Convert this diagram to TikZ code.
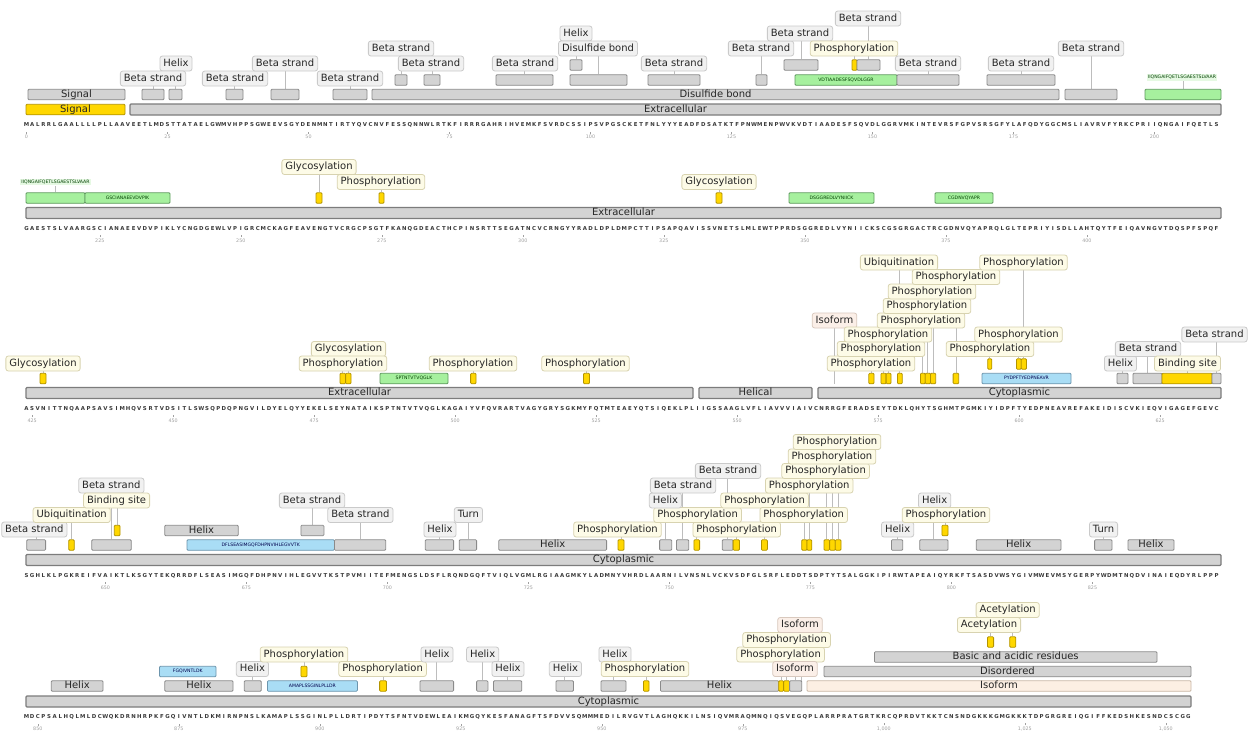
\documentclass[tikz,border=0pt]{standalone}
\usepackage{fontspec}
\setmainfont{DejaVu Sans}
\pgfdeclarelayer{bg}
\pgfsetlayers{bg,main}
\definecolor{boxg}{HTML}{D3D3D3}
\definecolor{boxgd}{HTML}{8A8A8A}
\definecolor{bardk}{HTML}{7C7C7C}
\definecolor{goldf}{HTML}{FFD700}
\definecolor{goldd}{HTML}{B39400}
\definecolor{pepg}{HTML}{A6F09E}
\definecolor{pepgd}{HTML}{5E9A5E}
\definecolor{pepb}{HTML}{A9DDF5}
\definecolor{pepbd}{HTML}{6C95AD}
\definecolor{isof}{HTML}{FCEFE3}
\definecolor{isod}{HTML}{C9B7A6}
\definecolor{labg}{HTML}{F1F1F1}
\definecolor{labgd}{HTML}{CACACA}
\definecolor{labyf}{HTML}{FDFBE7}
\definecolor{labyd}{HTML}{D8D3B0}
\definecolor{labpf}{HTML}{FBEFE8}
\definecolor{labpd}{HTML}{D9C9BE}
\definecolor{leadc}{HTML}{BDBDBD}
\definecolor{seqc}{HTML}{3A3A3A}
\definecolor{numc}{HTML}{A0A0A0}
\definecolor{peplf}{HTML}{E6F9E3}
\tikzset{
 bar0/.style={draw=bardk, fill=boxg, line width=1.1, rounded corners=1, minimum height=11, inner sep=0,
   text height=7, text depth=2, font=\fontsize{10}{10}\selectfont, text=black!85},
 gb/.style={draw=boxgd, fill=boxg, line width=0.8, rounded corners=1, minimum height=10.5, inner sep=0,
   text height=7, text depth=2, font=\fontsize{10}{10}\selectfont, text=black!85},
 yb/.style={gb, draw=goldd, fill=goldf},
 grb/.style={gb, draw=pepgd, fill=pepg, text height=3.5, text depth=1, font=\fontsize{4.6}{5}\selectfont, text=green!25!black},
 blb/.style={gb, draw=pepbd, fill=pepb, text height=3.5, text depth=1, font=\fontsize{4.6}{5}\selectfont, text=blue!30!black},
 isb/.style={gb, draw=isod, fill=isof},
 lab/.style={draw=labgd, fill=labg, rounded corners=2.5, line width=0.8, inner xsep=3.5, inner ysep=0,
   minimum height=15, text height=7.6, text depth=2, font=\fontsize{10}{10}\selectfont, text=black!85},
 laby/.style={lab, draw=labyd, fill=labyf},
 labp/.style={lab, draw=labpd, fill=labpf},
 pepl/.style={fill=peplf, inner sep=1.2, text height=3.5, text depth=1, font=\fontsize{4.6}{5}\selectfont, text=green!25!black},
 lead/.style={draw=leadc, line width=0.8},
 seqch/.style={inner sep=0, font=\bfseries\fontsize{5.4}{5}\selectfont, text=seqc},
 numl/.style={inner sep=0, font=\fontsize{4.8}{5}\selectfont, text=numc},
 tickm/.style={draw=numc, line width=0.4}
}
\newcommand\FeatBox[6]{\node[#2, minimum width={#4-#3}] (#1) at ({(#3+#4)/2},#5) {#6};}
\newcommand\FeatLab[6]{\node[#2] (#1) at (#3,#4) {#5};
 \begin{pgfonlayer}{bg}\draw[lead] (#6.north) -- (#6.north |- #1.south);\end{pgfonlayer}}
\newcommand\FeatLabP[6]{\node[#2] (#1) at (#3,#4) {#5};
 \begin{pgfonlayer}{bg}\draw[lead] (#6) -- (#6 |- #1.south);\end{pgfonlayer}}
\newcommand\NumRow[3]{\foreach \c/\t [count=\k] in {#3} {\node[numl] (n#1x\k) at ({26.5+\c*5.64},#2) {\t};
  \draw[tickm] ([yshift=1.2pt]n#1x\k.north) -- ++(0,-2);}}
\ExplSyntaxOn
\str_new:N \l_rs_seq_str
\NewDocumentCommand\SeqRow{mmm}
 {
  \str_set:Nn \l_rs_seq_str {#3}
  \int_step_inline:nn {\str_count:N \l_rs_seq_str}
   {
    \node[seqch](s#1x##1)at({26.5+(##1-1)*5.64},#2){\str_item:Nn \l_rs_seq_str {##1}};
   }
 }
\ExplSyntaxOff
\begin{document}
\begin{tikzpicture}[x=1pt,y=-1pt]
\useasboundingbox (0,0) rectangle (1252,739);
\begin{pgfonlayer}{bg}\fill[white] (0,0) rectangle (1252,739);\end{pgfonlayer}
% ---------------- sequences
\SeqRow{1}{125}{MALRRLGAALLLLPLLAAVEETLMDSTTATAELGWMVHPPSGWEEVSGYDENMNTIRTYQVCNVFESSQNNWLRTKFIRRRGAHRIHVEMKFSVRDCSSIPSVPGSCKETFNLYYYEADFDSATKTFPNWMENPWVKVDTIAADESFSQVDLGGRVMKINTEVRSFGPVSRSGFYLAFQDYGGCMSLIAVRVFYRKCPRIIQNGAIFQETLS}
\SeqRow{2}{228.5}{GAESTSLVAARGSCIANAEEVDVPIKLYCNGDGEWLVPIGRCMCKAGFEAVENGTVCRGCPSGTFKANQGDEACTHCPINSRTTSEGATNCVCRNGYYRADLDPLDMPCTTIPSAPQAVISSVNETSLMLEWTPPRDSGGREDLVYNIICKSCGSGRGACTRCGDNVQYAPRQLGLTEPRIYISDLLAHTQYTFEIQAVNGVTDQSPFSPQF}
\SeqRow{3}{408.5}{ASVNITTNQAAPSAVSIMHQVSRTVDSITLSWSQPDQPNGVILDYELQYYEKELSEYNATAIKSPTNTVTVQGLKAGAIYVFQVRARTVAGYGRYSGKMYFQTMTEAEYQTSIQEKLPLIIGSSAAGLVFLIAVVVIAIVCNRRGFERADSEYTDKLQHYTSGHMTPGMKIYIDPFTYEDPNEAVREFAKEIDISCVKIEQVIGAGEFGEVC}
\SeqRow{4}{575.5}{SGHLKLPGKREIFVAIKTLKSGYTEKQRRDFLSEASIMGQFDHPNVIHLEGVVTKSTPVMIITEFMENGSLDSFLRQNDGQFTVIQLVGMLRGIAAGMKYLADMNYVHRDLAARNILVNSNLVCKVSDFGLSRFLEDDTSDPTYTSALGGKIPIRWTAPEAIQYRKFTSASDVWSYGIVMWEVMSYGERPYWDMTNQDVINAIEQDYRLPPP}
\SeqRow{5}{717}{MDCPSALHQLMLDCWQKDRNHRPKFGQIVNTLDKMIRNPNSLKAMAPLSSGINLPLLDRTIPDYTSFNTVDEWLEAIKMGQYKESFANAGFTSFDVVSQMMMEDILRVGVTLAGHQKKILNSIQVMRAQMNQIQSVEGQPLARRPRATGRTKRCQPRDVTKKTCNSNDGKKKGMGKKKTDPGRGREIQGIFFKEDSHKESNDCSCGG}
\NumRow{1}{137}{0/0,25/25,50/50,75/75,100/100,125/125,150/150,175/175,200/200}
\NumRow{2}{240.3}{13/225,38/250,63/275,88/300,113/325,138/350,163/375,188/400}
\NumRow{3}{420.3}{1/425,26/450,51/475,76/500,101/525,126/550,151/575,176/600,201/625}
\NumRow{4}{587.3}{14/650,39/675,64/700,89/725,114/750,139/775,164/800,189/825}
\NumRow{5}{728.8}{2/850,27/875,52/900,77/925,102/950,127/975,152/{1{,}000},177/{1{,}025},202/{1{,}050}}
% ---------------- row 1
\FeatBox{r1sigY}{yb}{26}{125}{109.5}{Signal}
\FeatBox{r1ext}{bar0}{130}{1221}{109.5}{Extracellular}
\FeatBox{r1sig}{gb}{28}{125}{94.5}{Signal}
\FeatBox{r1b1}{gb}{142}{164}{94.5}{}
\FeatBox{r1h1}{gb}{169}{182}{94.5}{}
\FeatBox{r1b2}{gb}{226}{243}{94.5}{}
\FeatBox{r1b3}{gb}{271}{299}{94.5}{}
\FeatBox{r1b4}{gb}{333}{367}{94.5}{}
\FeatBox{r1ds}{gb}{372}{1059}{94.5}{Disulfide bond}
\FeatBox{r1b5}{gb}{1065}{1117}{94.5}{}
\FeatBox{r1pep}{grb}{1145}{1221}{94.5}{}
\FeatBox{r1b6}{gb}{395}{407}{80}{}
\FeatBox{r1b7}{gb}{424}{440}{80}{}
\FeatBox{r1b8}{gb}{496}{553}{80}{}
\FeatBox{r1ds2}{gb}{570}{627}{80}{}
\FeatBox{r1b9}{gb}{648}{700}{80}{}
\FeatBox{r1b10}{gb}{756}{767}{80}{}
\FeatBox{r1pep2}{grb}{795}{897}{80}{VDTIAADESFSQVDLGGR}
\FeatBox{r1b11}{gb}{897}{959}{80}{}
\FeatBox{r1b12}{gb}{987}{1055}{80}{}
\FeatBox{r1h2}{gb}{570}{582}{65}{}
\FeatBox{r1b13}{gb}{784}{818}{65}{}
\FeatBox{r1p1}{yb}{852}{857}{65}{}
\FeatBox{r1b14}{gb}{857}{880}{65}{}
\FeatLab{l1a}{lab}{176}{63.5}{Helix}{r1h1}
\FeatLab{l1b}{lab}{153}{78.5}{Beta strand}{r1b1}
\FeatLab{l1c}{lab}{235}{78.5}{Beta strand}{r1b2}
\FeatLab{l1d}{lab}{285}{63.5}{Beta strand}{r1b3}
\FeatLab{l1e}{lab}{350}{78.5}{Beta strand}{r1b4}
\FeatLab{l1f}{lab}{401}{48.5}{Beta strand}{r1b6}
\FeatLab{l1g}{lab}{431}{63.5}{Beta strand}{r1b7}
\FeatLab{l1h}{lab}{525}{63.5}{Beta strand}{r1b8}
\FeatLab{l1i}{lab}{576}{33.5}{Helix}{r1h2}
\FeatLab{l1j}{lab}{598}{48.5}{Disulfide bond}{r1ds2}
\FeatLab{l1k}{lab}{674}{63.5}{Beta strand}{r1b9}
\FeatLab{l1l}{lab}{761}{48.5}{Beta strand}{r1b10}
\FeatLab{l1m}{lab}{800}{33.5}{Beta strand}{r1b13}
\FeatLab{l1n}{laby}{854}{48.5}{Phosphorylation}{r1p1}
\FeatLab{l1o}{lab}{868}{18.5}{Beta strand}{r1b14}
\FeatLab{l1p}{lab}{928}{63.5}{Beta strand}{r1b11}
\FeatLab{l1q}{lab}{1021}{63.5}{Beta strand}{r1b12}
\FeatLab{l1r}{lab}{1091}{48.5}{Beta strand}{r1b5}
\FeatLab{l1s}{pepl}{1182}{77.5}{IIQNGAIFQETLSGAESTSLVAAR}{r1pep}
% ---------------- row 2
\FeatBox{r2ext}{bar0}{26}{1221}{213}{Extracellular}
\FeatBox{r2pep1}{grb}{26}{85}{198}{}
\FeatBox{r2pep2}{grb}{85}{170}{198}{GSCIANAEEVDVPIK}
\FeatBox{r2g1}{yb}{316}{322}{198}{}
\FeatBox{r2p1}{yb}{379}{384}{198}{}
\FeatBox{r2g2}{yb}{716}{722}{198}{}
\FeatBox{r2pep3}{grb}{789}{874}{198}{DSGGREDLVYNIICK}
\FeatBox{r2pep4}{grb}{935}{993}{198}{CGDNVQYAPR}
\FeatLab{l2a}{pepl}{55.5}{182}{IIQNGAIFQETLSGAESTSLVAAR}{r2pep1}
\FeatLab{l2b}{laby}{319}{167}{Glycosylation}{r2g1}
\FeatLab{l2c}{laby}{381}{182}{Phosphorylation}{r2p1}
\FeatLab{l2d}{laby}{719}{182}{Glycosylation}{r2g2}
% ---------------- row 3
\FeatBox{r3ext}{bar0}{26}{693}{393}{Extracellular}
\FeatBox{r3hel}{bar0}{699}{812}{393}{Helical}
\FeatBox{r3cyt}{bar0}{818}{1221}{393}{Cytoplasmic}
\FeatBox{r3g1}{yb}{40}{46}{378.5}{}
\FeatBox{r3p1}{yb}{340}{345.6}{378.5}{}
\FeatBox{r3g2}{yb}{345.6}{351}{378.5}{}
\FeatBox{r3pep}{grb}{380}{448}{378.5}{SPTNTVTVQGLK}
\FeatBox{r3p2}{yb}{470.6}{476}{378.5}{}
\FeatBox{r3p3}{yb}{583.5}{589.5}{378.5}{}
\FeatBox{r3pA}{yb}{868.8}{874}{378.5}{}
\FeatBox{r3pB}{yb}{880.9}{886.1}{378.5}{}
\FeatBox{r3pC}{yb}{886.1}{891}{378.5}{}
\FeatBox{r3u}{yb}{897.4}{902.3}{378.5}{}
\FeatBox{r3pD}{yb}{920.4}{925.2}{378.5}{}
\FeatBox{r3pE}{yb}{925.2}{930.5}{378.5}{}
\FeatBox{r3pF}{yb}{930.5}{935.7}{378.5}{}
\FeatBox{r3pG}{yb}{953.1}{958.7}{378.5}{}
\FeatBox{r3pep2}{blb}{982}{1071}{378.5}{PYDPFTYEDPNEAVR}
\FeatBox{r3pH}{yb}{987.7}{991.8}{364}{}
\FeatBox{r3pI}{yb}{1016.4}{1021.2}{364}{}
\FeatBox{r3pJ}{yb}{1021.2}{1026.5}{364}{}
\FeatBox{r3h}{gb}{1117}{1128}{378.5}{}
\FeatBox{r3b1}{gb}{1133}{1162}{378.5}{}
\FeatBox{r3bs}{yb}{1162}{1212}{378.5}{}
\FeatBox{r3b2}{gb}{1212}{1221}{378.5}{}
\coordinate (r3iso) at (834.5,383.5);
\FeatLab{l3a}{laby}{43}{363.5}{Glycosylation}{r3g1}
\FeatLab{l3b}{laby}{348.5}{349}{Glycosylation}{r3g2}
\FeatLab{l3c}{laby}{343}{363.5}{Phosphorylation}{r3p1}
\FeatLab{l3d}{laby}{473}{363.5}{Phosphorylation}{r3p2}
\FeatLab{l3e}{laby}{585.5}{363.5}{Phosphorylation}{r3p3}
\FeatLabP{l3f}{labp}{834.5}{320.5}{Isoform}{r3iso}
\FeatLab{l3g}{laby}{871}{363.5}{Phosphorylation}{r3pA}
\FeatLab{l3h}{laby}{881}{349}{Phosphorylation}{r3pB}
\FeatLab{l3i}{laby}{888}{334.5}{Phosphorylation}{r3pC}
\FeatLab{l3j}{laby}{899}{262.5}{Ubiquitination}{r3u}
\FeatLab{l3k}{laby}{921}{320.5}{Phosphorylation}{r3pD}
\FeatLab{l3l}{laby}{927}{306}{Phosphorylation}{r3pE}
\FeatLab{l3m}{laby}{932}{291.5}{Phosphorylation}{r3pF}
\FeatLab{l3n}{laby}{956}{277}{Phosphorylation}{r3pG}
\FeatLab{l3o}{laby}{990}{349}{Phosphorylation}{r3pH}
\FeatLab{l3p}{laby}{1018.5}{334.5}{Phosphorylation}{r3pI}
\FeatLab{l3q}{laby}{1023.5}{262.5}{Phosphorylation}{r3pJ}
\FeatLab{l3r}{lab}{1120.5}{363.5}{Helix}{r3h}
\FeatLab{l3s}{lab}{1148}{349}{Beta strand}{r3b1}
\FeatLab{l3t}{lab}{1214.5}{334.5}{Beta strand}{r3b2}
\FeatLab{l3u}{laby}{1187.5}{363.5}{Binding site}{r3bs}
% ---------------- row 4
\FeatBox{r4cyt}{bar0}{26}{1221}{560}{Cytoplasmic}
\FeatBox{r4b1}{gb}{26.7}{45.6}{545}{}
\FeatBox{r4u}{yb}{68.7}{74.3}{545}{}
\FeatBox{r4b2}{gb}{91.7}{131.3}{545}{}
\FeatBox{r4pep}{blb}{187}{334.4}{545}{DFLSEASIMGQFDHPNVIHLEGVVTK}
\FeatBox{r4b3}{gb}{334.4}{385.7}{545}{}
\FeatBox{r4h1}{gb}{425.3}{453.6}{545}{}
\FeatBox{r4t1}{gb}{459.2}{476.6}{545}{}
\FeatBox{r4hx1}{gb}{498.8}{606.6}{545}{Helix}
\FeatBox{r4p1}{yb}{618}{624}{545}{}
\FeatBox{r4bs}{yb}{114.3}{120}{530.5}{}
\FeatBox{r4hx2}{gb}{164.8}{238.3}{530.5}{Helix}
\FeatBox{r4b4}{gb}{300.9}{323.9}{530.5}{}
\FeatBox{r4h2}{gb}{659.6}{671.7}{545}{}
\FeatBox{r4b5}{gb}{676.5}{688.7}{545}{}
\FeatBox{r4p2}{yb}{693.9}{699.6}{545}{}
\FeatBox{r4b6}{gb}{722.2}{733.1}{545}{}
\FeatBox{r4p3}{yb}{733.1}{739.5}{545}{}
\FeatBox{r4p4}{yb}{761.4}{767.4}{545}{}
\FeatBox{r4p5}{yb}{801.7}{807}{545}{}
\FeatBox{r4p6}{yb}{807}{811.8}{545}{}
\FeatBox{r4p7}{yb}{824}{829.6}{545}{}
\FeatBox{r4p8}{yb}{829.6}{835.3}{545}{}
\FeatBox{r4p9}{yb}{835.3}{841}{545}{}
\FeatBox{r4h3}{gb}{891.4}{902.7}{545}{}
\FeatBox{r4h4}{gb}{919.7}{948}{545}{}
\FeatBox{r4hx3}{gb}{976.2}{1061}{545}{Helix}
\FeatBox{r4t2}{gb}{1094.6}{1112}{545}{}
\FeatBox{r4hx4}{gb}{1128}{1174}{545}{Helix}
\FeatBox{r4p10}{yb}{941.9}{948}{530.5}{}
\FeatLab{l4a}{lab}{34.3}{529.5}{Beta strand}{r4b1}
\FeatLab{l4b}{laby}{71.7}{515}{Ubiquitination}{r4u}
\FeatLab{l4c}{lab}{111.3}{485.5}{Beta strand}{r4b2}
\FeatLab{l4d}{laby}{116.6}{500.5}{Binding site}{r4bs}
\FeatLab{l4e}{lab}{312}{500.5}{Beta strand}{r4b4}
\FeatLab{l4f}{lab}{360.4}{515}{Beta strand}{r4b3}
\FeatLab{l4g}{lab}{440}{529.5}{Helix}{r4h1}
\FeatLab{l4h}{lab}{468.4}{515}{Turn}{r4t1}
\FeatLab{l4i}{laby}{617.5}{529.5}{Phosphorylation}{r4p1}
\FeatLab{l4j}{laby}{736.7}{529.5}{Phosphorylation}{r4p3}
\FeatLab{l4k}{laby}{697.6}{515}{Phosphorylation}{r4p2}
\FeatLab{l4l}{lab}{665.4}{500.5}{Helix}{r4h2}
\FeatLab{l4m}{lab}{683}{485.5}{Beta strand}{r4b5}
\FeatLab{l4n}{lab}{728}{471}{Beta strand}{r4b6}
\FeatLab{l4o}{laby}{764.6}{500.5}{Phosphorylation}{r4p4}
\FeatLab{l4p}{laby}{803.7}{515}{Phosphorylation}{r4p5}
\FeatLab{l4q}{laby}{809.2}{485.5}{Phosphorylation}{r4p6}
\FeatLab{l4r}{laby}{825.6}{471}{Phosphorylation}{r4p7}
\FeatLab{l4s}{laby}{832}{456.5}{Phosphorylation}{r4p8}
\FeatLab{l4t}{laby}{837}{442}{Phosphorylation}{r4p9}
\FeatLab{l4u}{lab}{897.6}{529.5}{Helix}{r4h3}
\FeatLab{l4v}{lab}{934.6}{500.5}{Helix}{r4h4}
\FeatLab{l4w}{laby}{946}{515}{Phosphorylation}{r4p10}
\FeatLab{l4x}{lab}{1103.5}{529.5}{Turn}{r4t2}
% ---------------- row 5
\FeatBox{r5cyt}{bar0}{26}{1191}{701.5}{Cytoplasmic}
\FeatBox{r5hx1}{gb}{51.3}{103}{686}{Helix}
\FeatBox{r5hx2}{gb}{164.8}{233}{686}{Helix}
\FeatBox{r5h1}{gb}{244.3}{261.3}{686}{}
\FeatBox{r5pep1}{blb}{267.4}{357.4}{686}{AMAPLSSGINLPLLDR}
\FeatBox{r5p1}{yb}{379.6}{386.5}{686}{}
\FeatBox{r5h2}{gb}{420}{453.6}{686}{}
\FeatBox{r5h3}{gb}{476.6}{487.9}{686}{}
\FeatBox{r5h4}{gb}{493.5}{521.8}{686}{}
\FeatBox{r5h5}{gb}{556}{573.5}{686}{}
\FeatBox{r5h6}{gb}{601}{626}{686}{}
\FeatBox{r5p2}{yb}{643.4}{649}{686}{}
\FeatBox{r5hx3}{gb}{660.4}{778.7}{686}{Helix}
\FeatBox{r5p3}{yb}{778.7}{783.6}{686}{}
\FeatBox{r5p4}{yb}{783.6}{789.6}{686}{}
\FeatBox{r5iso1}{gb}{789.6}{801.7}{686}{}
\FeatBox{r5iso2}{isb}{807}{1191}{686}{Isoform}
\FeatBox{r5pep2}{blb}{159.5}{216}{671.5}{FGQIVNTLDK}
\FeatBox{r5p5}{yb}{300.9}{307}{671.5}{}
\FeatBox{r5dis}{gb}{824}{1191}{671.5}{Disordered}
\FeatBox{r5bas}{gb}{874.4}{1157}{657}{Basic and acidic residues}
\FeatBox{r5a1}{yb}{987.5}{993.6}{642}{}
\FeatBox{r5a2}{yb}{1009.7}{1015.8}{642}{}
\coordinate (r5iso3) at (801,681);
\FeatLab{l5a}{lab}{252.4}{669}{Helix}{r5h1}
\FeatLab{l5b}{laby}{304}{654.5}{Phosphorylation}{r5p5}
\FeatLab{l5c}{laby}{382.6}{669}{Phosphorylation}{r5p1}
\FeatLab{l5d}{lab}{437}{654.5}{Helix}{r5h2}
\FeatLab{l5e}{lab}{482.6}{654.5}{Helix}{r5h3}
\FeatLab{l5f}{lab}{508}{669}{Helix}{r5h4}
\FeatLab{l5g}{lab}{565.4}{669}{Helix}{r5h5}
\FeatLab{l5h}{lab}{615}{654.5}{Helix}{r5h6}
\FeatLab{l5i}{laby}{645}{669}{Phosphorylation}{r5p2}
\FeatLab{l5j}{laby}{780.6}{654.5}{Phosphorylation}{r5p3}
\FeatLab{l5k}{laby}{786.6}{640}{Phosphorylation}{r5p4}
\FeatLabP{l5m}{labp}{800}{625}{Isoform}{r5iso3}
\FeatLab{l5l}{labp}{795}{669}{Isoform}{r5iso1}
\FeatLab{l5n}{laby}{989}{625}{Acetylation}{r5a1}
\FeatLab{l5o}{laby}{1007.7}{610}{Acetylation}{r5a2}
\end{tikzpicture}
\end{document}
